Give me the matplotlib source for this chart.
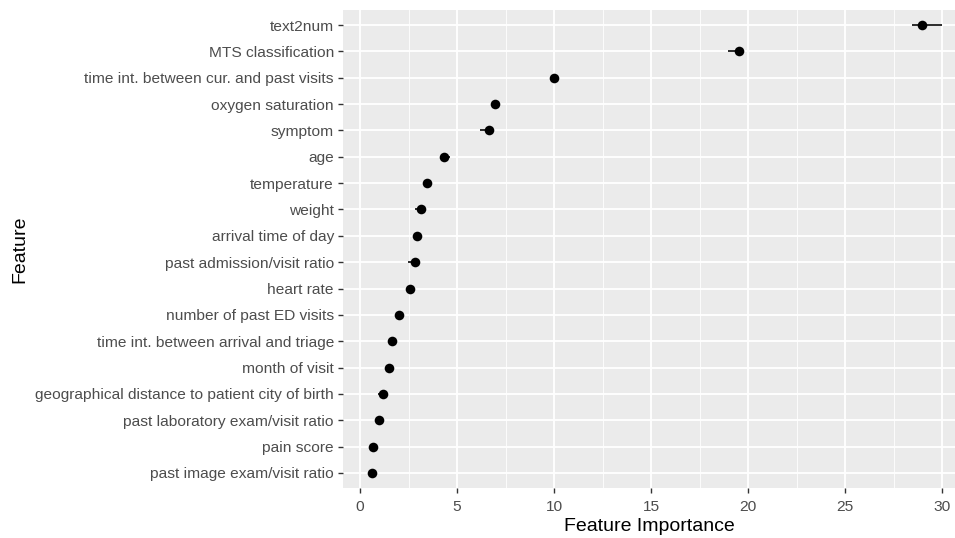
import matplotlib
matplotlib.use("Agg")
import matplotlib.pyplot as plt
from matplotlib.ticker import MultipleLocator

# top to bottom, as in the picture
features = [
    "text2num",
    "MTS classification",
    "time int. between cur. and past visits",
    "oxygen saturation",
    "symptom",
    "age",
    "temperature",
    "weight",
    "arrival time of day",
    "past admission/visit ratio",
    "heart rate",
    "number of past ED visits",
    "time int. between arrival and triage",
    "month of visit",
    "geographical distance to patient city of birth",
    "past laboratory exam/visit ratio",
    "pain score",
    "past image exam/visit ratio",
]
importance = [28.94, 19.54, 10.0, 6.93, 6.64, 4.33, 3.45, 3.12, 2.95, 2.83,
              2.57, 2.03, 1.62, 1.48, 1.17, 0.95, 0.64, 0.6]
imp_low = [28.45, 18.97, 9.95, 6.88, 6.17, 4.25, 3.4, 2.83, 2.9, 2.48,
           2.52, 1.98, 1.57, 1.43, 0.9, 0.9, 0.6, 0.55]
imp_high = [29.97, 19.6, 10.05, 6.98, 6.7, 4.62, 3.5, 3.17, 3.0, 2.88,
            2.62, 2.08, 1.67, 1.53, 1.22, 1.0, 0.69, 0.65]

plt.rcParams["font.family"] = ["Liberation Sans", "DejaVu Sans"]

fig = plt.figure(figsize=(9.55, 5.38), dpi=100)
ax = fig.add_axes([343 / 955, 1 - 488 / 538, 612 / 955, 478 / 538])
ax.set_facecolor("#EBEBEB")

n = len(features)
ys = [n - 1 - i for i in range(n)]

for y, lo, hi in zip(ys, imp_low, imp_high):
    ax.plot([lo, hi], [y, y], color="#1a1a1a", lw=1.3, solid_capstyle="butt", zorder=3)
ax.scatter(importance, ys, s=48, color="black", zorder=4, linewidths=0)

ax.set_xlim(-0.88, 30.65)
ax.set_ylim(-0.57, n - 1 + 0.57)
ax.xaxis.set_major_locator(MultipleLocator(5))
ax.xaxis.set_minor_locator(MultipleLocator(2.5))
ax.set_yticks(ys)
ax.set_yticklabels(features)

ax.grid(which="major", color="white", lw=1.3, zorder=0)
ax.grid(which="minor", axis="x", color="white", lw=0.6, zorder=0)
ax.set_axisbelow(True)
for s in ax.spines.values():
    s.set_visible(False)

ax.tick_params(axis="both", which="major", length=3.5, width=1.0, color="#333333",
               labelcolor="#4D4D4D", labelsize=11.15, pad=3)
ax.tick_params(axis="x", which="major", pad=5)
ax.tick_params(axis="both", which="minor", length=0)

ax.set_xlabel("Feature Importance", fontsize=14, color="black", labelpad=3)
ax.set_ylabel("Feature", fontsize=14, color="black", labelpad=5)

fig.savefig("out.png", dpi=100)
